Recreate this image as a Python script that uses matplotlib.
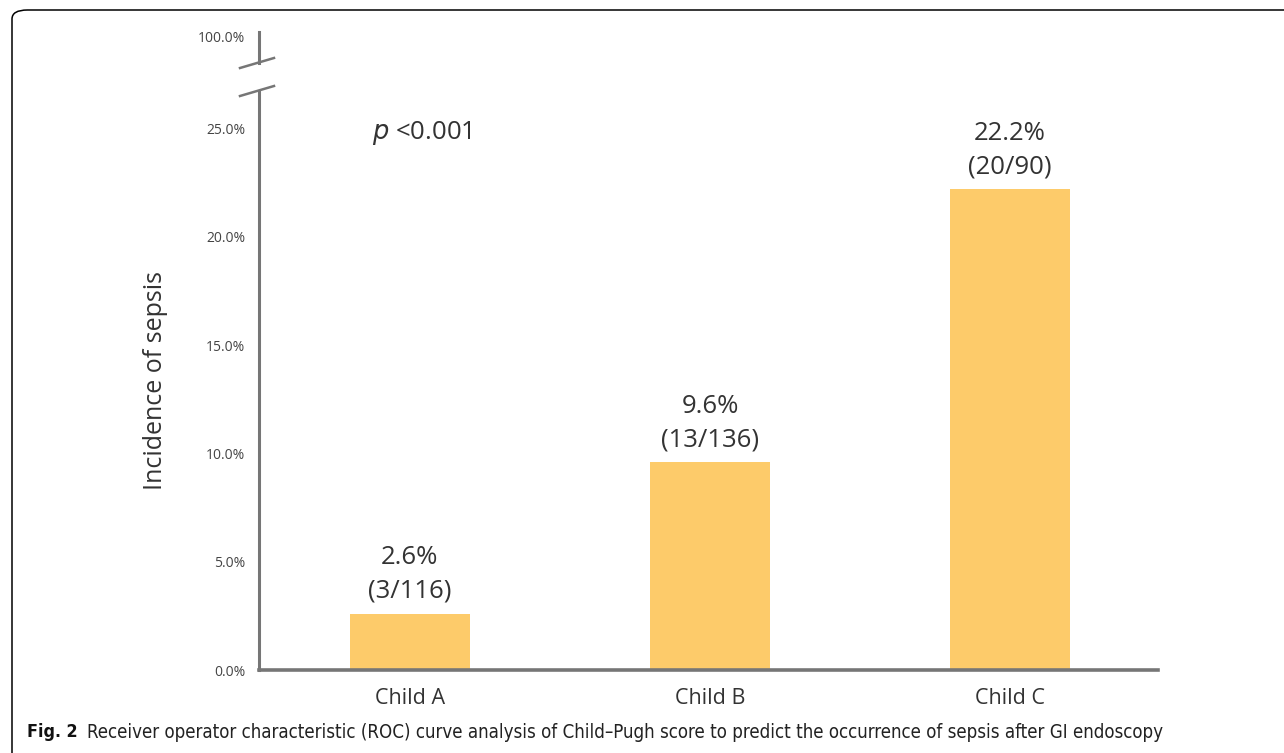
import matplotlib
matplotlib.use("Agg")
import matplotlib.pyplot as plt
from matplotlib.patches import FancyBboxPatch

categories = ["Child A", "Child B", "Child C"]
incidence = [2.6, 9.6, 22.2]
counts = ["(3/116)", "(13/136)", "(20/90)"]
lower_ticks = [0, 5, 10, 15, 20, 25]
upper_ticks = [100]

bar_color = "#FDCB6A"
axis_color = "#767676"
text_color = "#333333"

plt.rcParams["font.family"] = ["Open Sans", "DejaVu Sans"]

W, H = 1284, 753
fig = plt.figure(figsize=(W / 100, H / 100), dpi=100)

def box(x0, y0, x1, y1):
    # pixel box (top-left origin) -> figure fraction rect
    return [x0 / W, 1 - y1 / H, (x1 - x0) / W, (y1 - y0) / H]

ax = fig.add_axes(box(259, 91, 1158, 670))
ax_top = fig.add_axes(box(259, 32, 1158, 63))

x = list(range(len(categories)))
ax.bar(x, incidence, width=0.4, color=bar_color, zorder=2)
ax.set_xlim(-0.503, 2.493)
ax.set_ylim(0, 26.74)
ax.set_yticks(lower_ticks)
ax.set_yticklabels([f"{v:.1f}%" for v in lower_ticks])
ax.set_xticks(x)
ax.set_xticklabels(categories, fontsize=15.5, color=text_color)

# upper part of the broken axis, only the 100% tick
ax_top.set_xlim(ax.get_xlim())
ax_top.set_ylim(97.3, 100.4)
ax_top.set_yticks(upper_ticks)
ax_top.set_yticklabels([f"{v:.1f}%" for v in upper_ticks])
ax_top.set_xticks([])

for a in (ax, ax_top):
    for s in ("top", "right"):
        a.spines[s].set_visible(False)
    a.spines["left"].set_color(axis_color)
    a.spines["left"].set_linewidth(2.2)
    a.tick_params(axis="y", length=0, labelsize=10, labelcolor="#444444", pad=10)
    a.patch.set_alpha(0)
ax_top.spines["bottom"].set_visible(False)
ax.spines["bottom"].set_color(axis_color)
ax.spines["bottom"].set_linewidth(2.6)
ax.tick_params(axis="x", length=0, pad=13)

# break marks
fig.add_artist(plt.Line2D([240 / W, 274 / W], [1 - 68 / H, 1 - 58 / H], color=axis_color, lw=1.8))
fig.add_artist(plt.Line2D([240 / W, 274 / W], [1 - 96 / H, 1 - 86 / H], color=axis_color, lw=1.8))

for xi, v, c in zip(x, incidence, counts):
    ax.annotate(f"{v}%\n{c}", (xi, v), xytext=(0, 7), textcoords="offset points",
                ha="center", va="bottom", fontsize=18.5, color=text_color, linespacing=1.45)

ax.text(0.126, 0.927, r"$\mathit{p}$ <0.001", transform=ax.transAxes, fontsize=18.5,
        color=text_color, ha="left", va="center")

ax.set_ylabel("Incidence of sepsis", fontsize=18, color=text_color)
ax.yaxis.set_label_coords((168 - 259) / 899, 0.5)

# figure caption: bold label followed by regular text
cap_y = 1 - 732 / H
lab = fig.text(27 / W, cap_y, "Fig. 2", fontsize=12.8, fontweight="bold", va="center",
               family="DejaVu Sans", fontstretch="condensed", color="#111111")
fig.canvas.draw()
x_end = lab.get_window_extent().x1
fig.text((x_end + 9) / W, cap_y,
         "Receiver operator characteristic (ROC) curve analysis of Child\u2013Pugh score to predict the occurrence of sepsis after GI endoscopy",
         fontsize=13.4, va="center", family="DejaVu Sans", fontstretch="condensed", color="#222222")

frame = FancyBboxPatch((12 / W, -0.05), 1.2, 1 - 10 / H + 0.05,
                       boxstyle="round,pad=0,rounding_size=0.012",
                       transform=fig.transFigure, fill=False, edgecolor="black", lw=1.1)
fig.add_artist(frame)

fig.savefig("out.png", dpi=100)
